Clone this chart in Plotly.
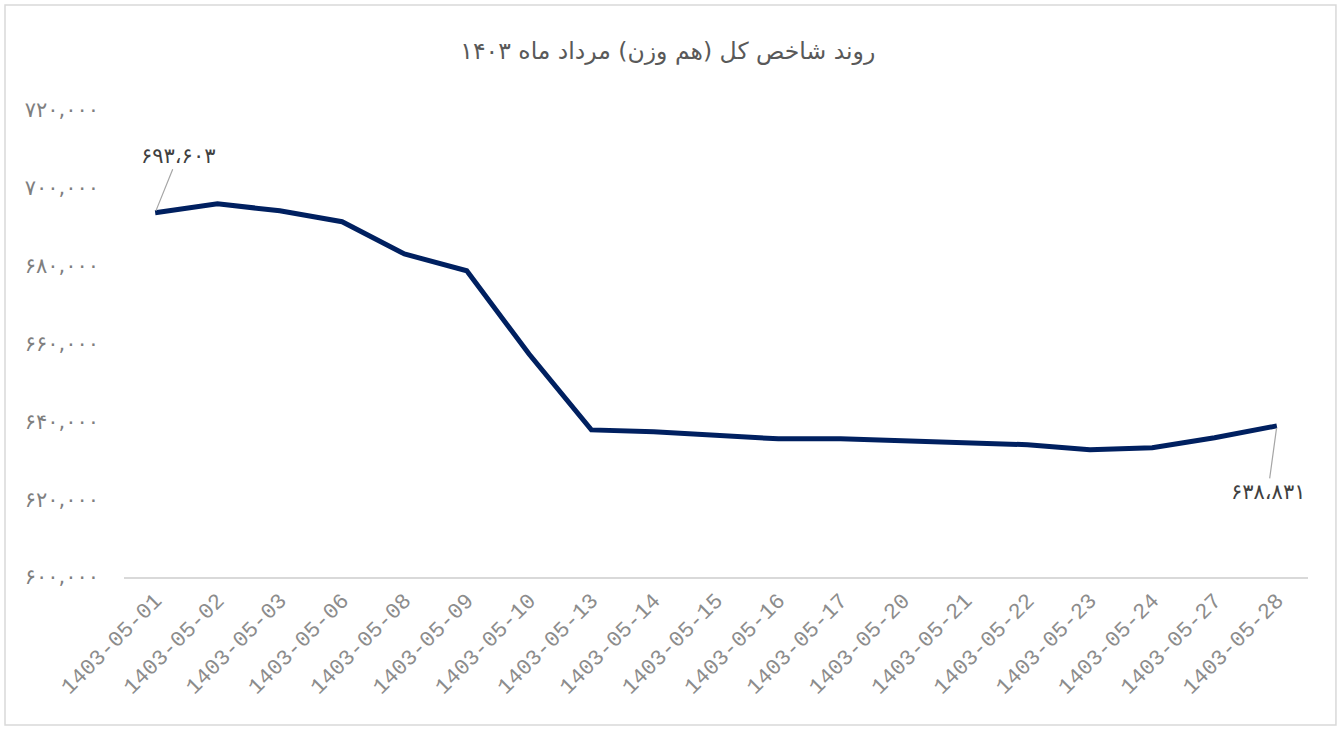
import plotly.graph_objects as go

# trading days of Mordad 1403
dates = [
    "1403-05-01", "1403-05-02", "1403-05-03", "1403-05-06", "1403-05-08",
    "1403-05-09", "1403-05-10", "1403-05-13", "1403-05-14", "1403-05-15",
    "1403-05-16", "1403-05-17", "1403-05-20", "1403-05-21", "1403-05-22",
    "1403-05-23", "1403-05-24", "1403-05-27", "1403-05-28",
]
index_values = [
    693603, 695900, 694100, 691300, 683000,
    678700, 657300, 637800, 637300, 636500,
    635500, 635500, 635000, 634700, 634000,
    632700, 633200, 635800, 638831,
]
y_ticks = [600000, 620000, 640000, 660000, 680000, 700000, 720000]

FA_DIGITS = str.maketrans("0123456789", "۰۱۲۳۴۵۶۷۸۹")


def to_fa(n, sep=","):
    return f"{n:,}".replace(",", sep).translate(FA_DIGITS)


fig = go.Figure(
    go.Scatter(
        x=dates,
        y=index_values,
        mode="lines",
        line=dict(color="#002060", width=5),
        hoverinfo="x+y",
    )
)

# labels on first and last points
for i, ax, ay in [(0, 23, -57), (len(dates) - 1, -9, 66)]:
    fig.add_annotation(
        x=dates[i], y=index_values[i],
        text=to_fa(index_values[i], "،"),
        showarrow=True, arrowhead=0, arrowwidth=1.2, arrowcolor="#a6a6a6",
        ax=ax, ay=ay, standoff=2,
        font=dict(family="DejaVu Sans", size=21, color="#404040"),
    )

fig.update_layout(
    width=1341, height=729,
    paper_bgcolor="white", plot_bgcolor="white",
    margin=dict(l=124, r=33, t=110, b=152),
    showlegend=False,
    title=dict(
        text="روند شاخص کل (هم وزن) مرداد ماه ۱۴۰۳",
        x=0.498, xanchor="center", y=0.931, yanchor="middle",
        font=dict(family="DejaVu Sans", size=23.5, color="#595959"),
    ),
    font=dict(family="DejaVu Sans", color="#595959"),
)
fig.update_xaxes(
    type="category", tickangle=-45,
    tickfont=dict(family="Liberation Mono", size=22, color="#8c8c8c"),
    showgrid=False, showline=True, linecolor="#d9d9d9", linewidth=1.5,
    ticks="", range=[-0.5, len(dates) - 0.5],
)
fig.update_yaxes(
    range=[600000, 720000], tickvals=y_ticks,
    ticktext=[to_fa(v) for v in y_ticks],
    tickfont=dict(family="DejaVu Sans", size=21, color="#7f7f7f"),
    showgrid=False, zeroline=False, showline=False, ticks="",
    ticklabelstandoff=24,
)
# outer chart border
fig.add_shape(
    type="rect", xref="paper", yref="paper",
    x0=-0.1005, x1=1.0236, y0=-0.317, y1=1.2248,
    line=dict(color="#d9d9d9", width=1.5), layer="below",
)

fig.write_html(
    "out.html",
    config={"displayModeBar": False},
    post_script="document.body.style.margin='0';",
)
